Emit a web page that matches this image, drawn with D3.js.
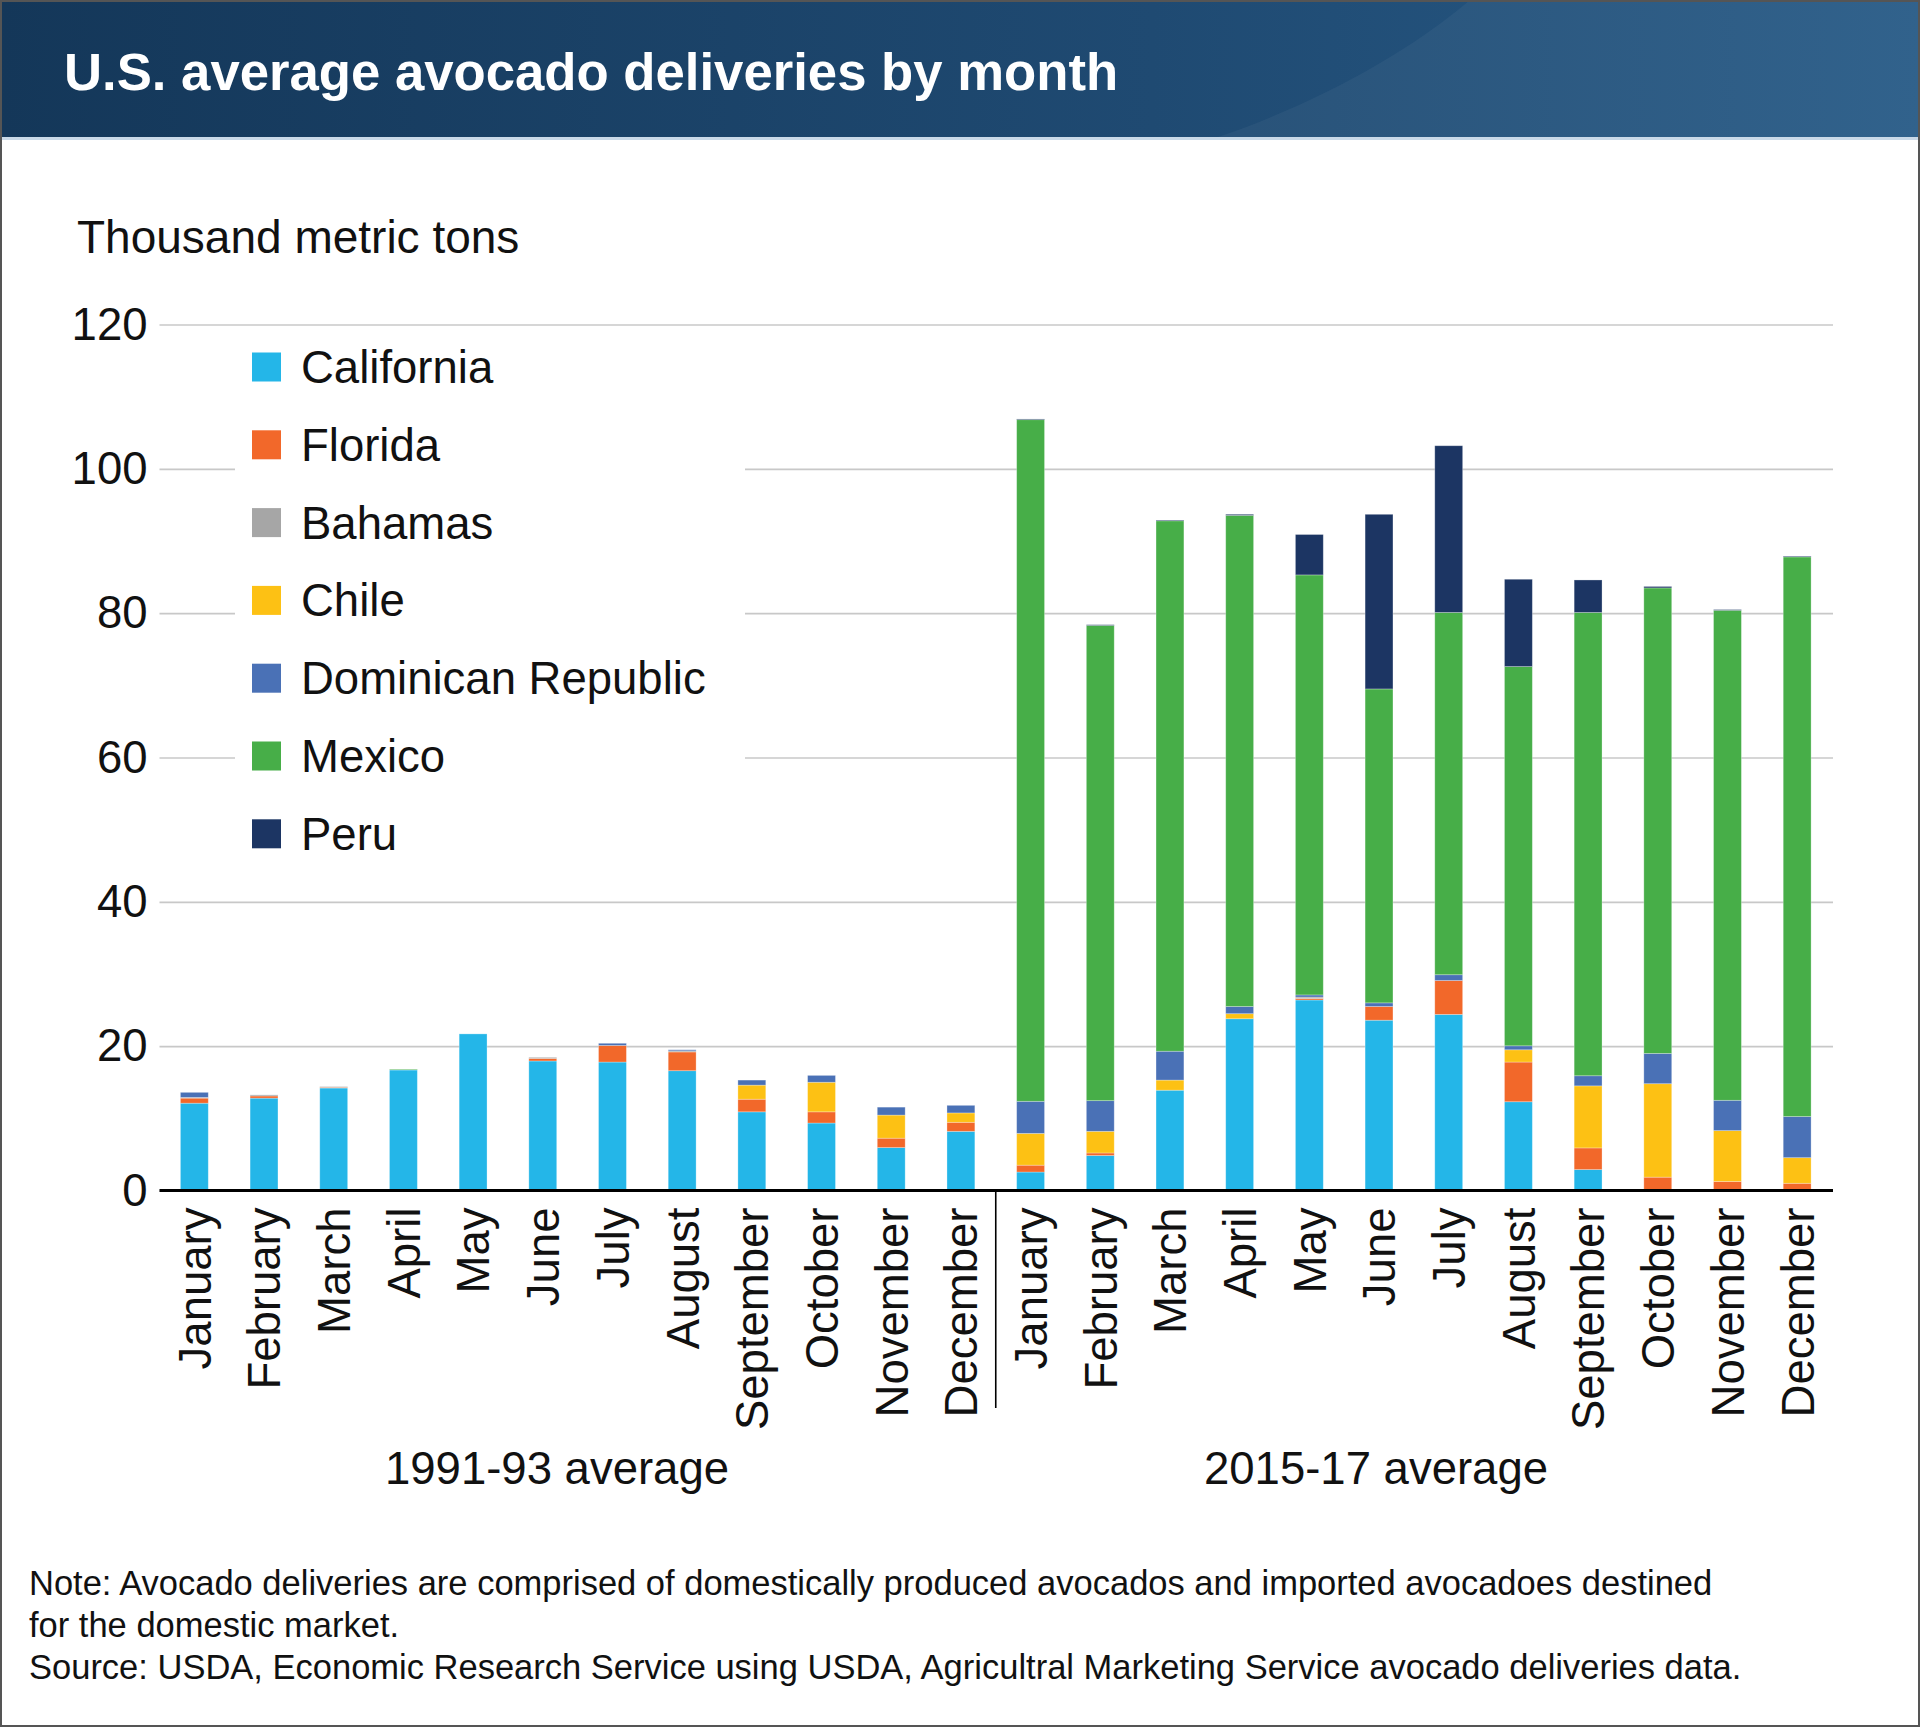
<!DOCTYPE html>
<html>
<head>
<meta charset="utf-8">
<script src="https://cdn.jsdelivr.net/npm/d3@7"></script>
<style>
  html, body { margin: 0; padding: 0; background: #fff; }
  svg { display: block; font-family: "Liberation Sans", Arial, Helvetica, sans-serif; }
</style>
</head>
<body>
<svg id="chart" width="1920" height="1727"></svg>
<script>
// ---- Data (thousand metric tons) ----
const months = ["January","February","March","April","May","June","July","August","September","October","November","December"];
const periods = ["1991-93 average", "2015-17 average"];
const seriesNames = ["California","Florida","Bahamas","Chile","Dominican Republic","Mexico","Peru"];
const seriesColors = ["#24b6e8","#f2682a","#a6a6a6","#fdc114","#4a71b6","#47ae48","#1c3563"];

// 1991-93 average, by month
const california1991 = [12.1, 12.8, 14.2, 16.7, 21.7, 17.95, 17.8, 16.6, 10.9, 9.35, 5.95, 8.2];
const florida1991    = [0.7, 0.3, 0.1, 0, 0, 0.35, 2.3, 2.6, 1.75, 1.55, 1.3, 1.25];
const bahamas1991    = [0.1, 0.15, 0.1, 0, 0, 0.15, 0, 0.15, 0, 0, 0, 0];
const chile1991      = [0, 0, 0, 0, 0, 0, 0, 0, 1.95, 4.1, 3.2, 1.3];
const dominican1991  = [0.7, 0, 0, 0, 0, 0, 0.3, 0.15, 0.7, 0.95, 1.1, 1.05];
const mexico1991     = [0, 0, 0, 0.1, 0, 0, 0, 0, 0, 0, 0, 0];
const peru1991       = [0, 0, 0, 0, 0, 0, 0, 0, 0, 0, 0, 0];

// 2015-17 average, by month
const california2015 = [2.56, 4.85, 13.9, 23.8, 26.4, 23.6, 24.4, 12.3, 2.9, 0, 0, 0];
const florida2015    = [0.95, 0.35, 0, 0, 0.2, 1.9, 4.7, 5.5, 3.0, 1.85, 1.25, 1.0];
const bahamas2015    = [0, 0, 0, 0, 0.2, 0, 0, 0, 0, 0, 0, 0];
const chile2015      = [4.4, 3.0, 1.4, 0.7, 0, 0, 0, 1.7, 8.6, 12.95, 7.05, 3.55];
const dominican2015  = [4.45, 4.25, 4.0, 1.0, 0.3, 0.5, 0.8, 0.55, 1.4, 4.2, 4.2, 5.7];
const mexico2015     = [94.45, 65.85, 73.5, 68.05, 58.2, 43.5, 50.2, 52.55, 64.2, 64.5, 67.9, 77.55];
const peru2015       = [0.1, 0.1, 0.1, 0.15, 5.6, 24.2, 23.1, 12.1, 4.5, 0.2, 0.1, 0.1];

const yTicks = [0, 20, 40, 60, 80, 100, 120];
const yLabel = "Thousand metric tons";
const title = "U.S. average avocado deliveries by month";
const notes = [
  "Note: Avocado deliveries are comprised of domestically produced avocados and imported avocadoes destined",
  "for the domestic market.",
  "Source: USDA, Economic Research Service using USDA, Agricultral Marketing Service avocado deliveries data."
];

// ---- Build table ----
const s1991 = [california1991, florida1991, bahamas1991, chile1991, dominican1991, mexico1991, peru1991];
const s2015 = [california2015, florida2015, bahamas2015, chile2015, dominican2015, mexico2015, peru2015];
const rows = [];
[s1991, s2015].forEach((set, p) => {
  months.forEach((m, i) => {
    const r = { key: p + "-" + m, month: m, period: p };
    seriesNames.forEach((s, k) => r[s] = set[k][i]);
    rows.push(r);
  });
});

const W = 1920, H = 1727;
const svg = d3.select("#chart");
const FONT = 45.5;

// ---- Header ----
const defs = svg.append("defs");
const grad = defs.append("linearGradient").attr("id", "hdr").attr("x1", "0").attr("x2", "1").attr("y1", "0").attr("y2", "0");
grad.append("stop").attr("offset", "0").attr("stop-color", "#143759");
grad.append("stop").attr("offset", "0.6").attr("stop-color", "#1f4a72");
grad.append("stop").attr("offset", "1").attr("stop-color", "#285b87");
svg.append("rect").attr("x", 0).attr("y", 0).attr("width", W).attr("height", 139).attr("fill", "url(#hdr)");
svg.append("path")
  .attr("d", "M1212,139 C1300,110 1400,60 1470,0 L1920,0 L1920,139 Z")
  .attr("fill", "#ffffff").attr("fill-opacity", 0.045);
svg.append("rect").attr("x", 0).attr("y", 137).attr("width", W).attr("height", 3).attr("fill", "#c9d9e8");
svg.append("text").attr("x", 64).attr("y", 90)
  .attr("fill", "#ffffff").attr("font-weight", "bold").attr("font-size", 52.7)
  .text(title);

// ---- Scales ----
const x = d3.scaleBand().domain(rows.map(d => d.key)).range([159.5, 1832]).paddingInner(0.6).paddingOuter(0.3);
const y = d3.scaleLinear().domain([0, 120]).range([1190.5, 324.5]);

// gridlines
const gAxisY = svg.append("g").attr("transform", "translate(159.5,0)")
  .call(d3.axisLeft(y).tickValues(yTicks).tickSize(-(1833 - 159.5)).tickPadding(12).tickFormat(d3.format("d")));
gAxisY.select(".domain").remove();
gAxisY.selectAll(".tick line").attr("stroke", "#c8c8c8").attr("stroke-width", 1.6);
gAxisY.selectAll(".tick text").attr("font-size", FONT).attr("fill", "#111").attr("font-family", null)
  .attr("x", -12);

// y label
svg.append("text").attr("x", 77).attr("y", 253).attr("font-size", 46).attr("fill", "#111").text(yLabel);

// ---- Stacked bars ----
const stack = d3.stack().keys(seriesNames);
const layers = stack(rows);
const color = d3.scaleOrdinal().domain(seriesNames).range(seriesColors);
svg.append("g").selectAll("g").data(layers).join("g")
  .attr("fill", d => color(d.key))
  .selectAll("rect").data(d => d.filter(v => v[1] - v[0] > 0)).join("rect")
  .attr("x", d => x(d.data.key))
  .attr("width", x.bandwidth())
  .attr("y", d => y(d[1]))
  .attr("height", d => y(d[0]) - y(d[1]))
  .attr("stroke", "#ffffff").attr("stroke-opacity", 0.35).attr("stroke-width", 0.8);

// ---- Legend (white box over gridlines) ----
svg.append("rect").attr("x", 235).attr("y", 337).attr("width", 510).attr("height", 532).attr("fill", "#fff");
const leg = svg.append("g").selectAll("g").data(seriesNames).join("g")
  .attr("transform", (d, i) => `translate(252,${367 + i * 77.8})`);
leg.append("rect").attr("x", 0).attr("y", -14.5).attr("width", 29).attr("height", 29).attr("fill", d => color(d));
leg.append("text").attr("x", 49).attr("y", 0).attr("dy", "0.35em").attr("font-size", FONT).attr("fill", "#111").text(d => d);

// ---- X axis ----
const gx = svg.append("g").attr("transform", "translate(0,1190.5)")
  .call(d3.axisBottom(x).tickSize(0).tickFormat(k => k.split("-")[1]));
gx.select(".domain").remove();
gx.selectAll(".tick text")
  .attr("font-size", FONT).attr("fill", "#111").attr("font-family", null)
  .attr("transform", "rotate(-90)")
  .attr("text-anchor", "end")
  .attr("x", -17).attr("y", 0).attr("dy", "0.36em");
svg.append("line").attr("x1", 159.5).attr("x2", 1833).attr("y1", 1190.5).attr("y2", 1190.5)
  .attr("stroke", "#000").attr("stroke-width", 3);
// divider between periods
const divX = (x(rows[11].key) + x.bandwidth() + x(rows[12].key)) / 2;
svg.append("line").attr("x1", divX).attr("x2", divX).attr("y1", 1190.5).attr("y2", 1408)
  .attr("stroke", "#000").attr("stroke-width", 1.6);

// period labels
svg.append("text").attr("x", 557).attr("y", 1484).attr("text-anchor", "middle").attr("font-size", FONT).attr("fill", "#111").text(periods[0]);
svg.append("text").attr("x", 1376).attr("y", 1484).attr("text-anchor", "middle").attr("font-size", FONT).attr("fill", "#111").text(periods[1]);

// notes
svg.append("g").selectAll("text").data(notes).join("text")
  .attr("x", 29).attr("y", (d, i) => 1595 + i * 42)
  .attr("font-size", 34.5).attr("fill", "#111").text(d => d);

// outer border
svg.append("rect").attr("x", 1).attr("y", 1).attr("width", W - 2).attr("height", H - 2)
  .attr("fill", "none").attr("stroke", "#555").attr("stroke-width", 2);
</script>
</body>
</html>
